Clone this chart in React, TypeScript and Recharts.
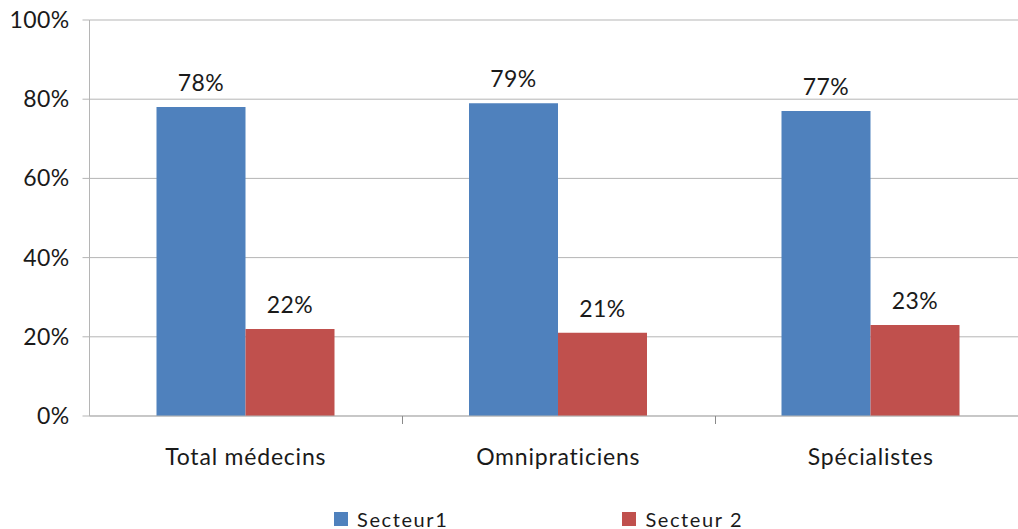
import { BarChart, Bar, CartesianGrid, LabelList, Legend, XAxis, YAxis } from "recharts";

const categories = ["Total médecins", "Omnipraticiens", "Spécialistes"];
const secteur1 = [78, 79, 77];
const secteur2 = [22, 21, 23];
const yTicks = [0, 20, 40, 60, 80, 100];

const data = categories.map((name, i) => ({ name, s1: secteur1[i], s2: secteur2[i] }));

const FONT = "Lato, 'Open Sans', sans-serif";
const BLUE = "#4f81bd";
const RED = "#c0504d";
const GRID = "#b5b5b5";

function YTick({ x, y, payload }: any) {
  return (
    <text x={x} y={y} dy={8} textAnchor="end" fontFamily={FONT} fontSize={23} fill="#1a1a1a" letterSpacing={0.4}>
      {payload.value}%
    </text>
  );
}

// category label plus a tick mark on the right-hand band boundary
function XTick({ x, y, payload, index, width, visibleTicksCount }: any) {
  const band = width / (visibleTicksCount || categories.length);
  const bx = Math.round(x + band / 2) + 0.5;
  return (
    <g>
      {index < categories.length - 1 && (
        <line x1={bx} x2={bx} y1={y} y2={y + 8} stroke="#8a8a8a" />
      )}
      <text x={x} y={y} dy={49} textAnchor="middle" fontFamily={FONT} fontSize={23} fill="#1a1a1a" letterSpacing={0.8}>
        {payload.value}
      </text>
    </g>
  );
}

function LegendBox() {
  const items = [
    { label: "Secteur1", color: BLUE },
    { label: "Secteur 2", color: RED },
  ];
  return (
    <div style={{ height: 40, display: "flex", alignItems: "flex-end", paddingLeft: 334, gap: 174, fontFamily: FONT }}>
      {items.map((it) => (
        <div key={it.label} style={{ display: "flex", alignItems: "center", gap: 9, height: 18, marginBottom: 1 }}>
          <span style={{ width: 14, height: 14, background: it.color, display: "inline-block" }} />
          <span style={{ fontSize: 20, letterSpacing: 1.6, color: "#1a1a1a", lineHeight: "18px" }}>{it.label}</span>
        </div>
      ))}
    </div>
  );
}

export default function App() {
  return (
    <div>
      <style>{"html,body{margin:0;overflow:hidden;background:#fff}"}</style>
      <BarChart
        width={1040}
        height={529}
        data={data}
        margin={{ top: 20, right: 13, left: 0, bottom: 0 }}
        barGap={0}
        barSize={89}
      >
        <CartesianGrid vertical={false} stroke={GRID} />
        <XAxis
          dataKey="name"
          height={73}
          tickLine={false}
          tickSize={0}
          tickMargin={0}
          axisLine={{ stroke: GRID }}
          tick={<XTick />}
          interval={0}
        />
        <YAxis
          width={89.5}
          domain={[0, 100]}
          ticks={yTicks}
          tickSize={7}
          tickMargin={13}
          axisLine={{ stroke: GRID }}
          tickLine={{ stroke: GRID }}
          tick={<YTick />}
        />
        <Legend verticalAlign="bottom" align="left" content={() => <LegendBox />} />
        <Bar dataKey="s1" name="Secteur1" fill={BLUE} isAnimationActive={false}>
          <LabelList
            dataKey="s1"
            position="top"
            offset={16}
            formatter={(v: any) => `${v}%`}
            style={{ fontFamily: FONT, fontSize: 23, fill: "#1a1a1a", letterSpacing: 0.4 }}
          />
        </Bar>
        <Bar dataKey="s2" name="Secteur 2" fill={RED} isAnimationActive={false}>
          <LabelList
            dataKey="s2"
            position="top"
            offset={16}
            formatter={(v: any) => `${v}%`}
            style={{ fontFamily: FONT, fontSize: 23, fill: "#1a1a1a", letterSpacing: 0.4 }}
          />
        </Bar>
      </BarChart>
    </div>
  );
}
